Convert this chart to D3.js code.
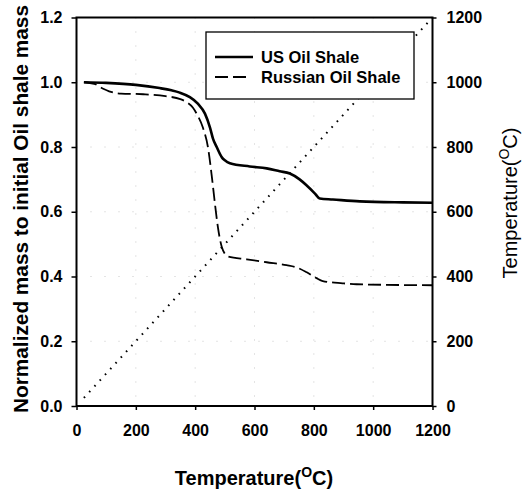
<!DOCTYPE html>
<html><head><meta charset="utf-8">
<script src="https://cdn.jsdelivr.net/npm/d3@7"></script>
<style>body{margin:0;background:#fff}svg{display:block}text{font-family:"Liberation Sans",Arial,sans-serif}</style>
</head><body>
<svg id="c" width="524" height="495"></svg>
<script>
const usTemp = [25,100,200,280,320,348,382,409,433,450,460,473,490,500,517,584,641,685,719,752,776,803,820,864,955,1100,1200];
const usMass = [1.0,0.998,0.992,0.982,0.975,0.968,0.954,0.934,0.903,0.86,0.826,0.799,0.768,0.759,0.75,0.74,0.734,0.725,0.718,0.70,0.681,0.657,0.641,0.638,0.632,0.629,0.628];
const ruTemp = [25,60,90,110,150,225,300,350,372,392,405,426,443,456,466,477,490,500,510,574,641,708,742,776,809,830,897,944,1200];
const ruMass = [1.0,0.995,0.98,0.972,0.965,0.963,0.957,0.948,0.938,0.922,0.903,0.86,0.80,0.71,0.63,0.55,0.49,0.47,0.462,0.453,0.444,0.435,0.428,0.413,0.395,0.386,0.379,0.376,0.373];
const tempX = [25,1200];
const tempY = [25,1200];
const xTicks = [0,200,400,600,800,1000,1200];
const yLeftTicks = [0,0.2,0.4,0.6,0.8,1.0,1.2];
const yRightTicks = [0,200,400,600,800,1000,1200];
const seriesNames = ["US Oil Shale","Russian Oil Shale"];

const svg = d3.select("#c");
const L=76.5,R=432.5,T=17.5,B=406;
const x = d3.scaleLinear().domain([0,1200]).range([L,R]);
const yL = d3.scaleLinear().domain([0,1.2]).range([B,T]);
const yR = d3.scaleLinear().domain([0,1200]).range([B,T]);

// faint grid
const g = svg.append("g").attr("stroke","#c8c8c8").attr("stroke-width",1).attr("stroke-dasharray","1,13");
xTicks.slice(1,-1).forEach(t=>g.append("line").attr("x1",x(t)).attr("x2",x(t)).attr("y1",T).attr("y2",B));
yLeftTicks.slice(1,-1).forEach(t=>g.append("line").attr("x1",L).attr("x2",R).attr("y1",yL(t)).attr("y2",yL(t)));

// temperature dotted line
const tline = d3.line().x(d=>x(d[0])).y(d=>yR(d[1]));
svg.append("path").datum(tempX.map((v,i)=>[v,tempY[i]])).attr("d",tline)
  .attr("fill","none").attr("stroke","#000").attr("stroke-width",2).attr("stroke-dasharray","1.6,6.2");

const mline = d3.line().x(d=>x(d[0])).y(d=>yL(d[1])).curve(d3.curveMonotoneX);
svg.append("path").datum(ruTemp.map((v,i)=>[v,ruMass[i]])).attr("d",mline)
  .attr("fill","none").attr("stroke","#000").attr("stroke-width",1.8).attr("stroke-dasharray","13,5");
svg.append("path").datum(usTemp.map((v,i)=>[v,usMass[i]])).attr("d",mline)
  .attr("fill","none").attr("stroke","#000").attr("stroke-width",2.6);

// axes
const fs = "16px";
function style(sel){
  sel.select(".domain").remove();
  sel.selectAll("line").attr("stroke","#000").attr("stroke-width",1.5);
  sel.selectAll("text").attr("font-size",fs).attr("font-weight","bold").attr("fill","#000");
}
svg.append("g").attr("transform",`translate(0,${B})`)
  .call(d3.axisBottom(x).tickValues(xTicks).tickSize(4).tickPadding(15).tickFormat(d3.format("d"))).call(style);
svg.append("g").attr("transform",`translate(${L},0)`)
  .call(d3.axisLeft(yL).tickValues(yLeftTicks).tickSize(5).tickPadding(9).tickFormat(d3.format(".1f"))).call(style);
svg.append("g").attr("transform",`translate(${R},0)`)
  .call(d3.axisRight(yR).tickValues(yRightTicks).tickSize(4).tickPadding(10).tickFormat(d3.format("d"))).call(style);

// frame
svg.append("rect").attr("x",L).attr("y",T).attr("width",R-L).attr("height",B-T)
  .attr("fill","none").attr("stroke","#000").attr("stroke-width",2);

// legend
const lg = svg.append("g");
lg.append("rect").attr("x",206).attr("y",32).attr("width",208).attr("height",67)
  .attr("fill","#fff").attr("stroke","#000").attr("stroke-width",1.3);
lg.append("line").attr("x1",215).attr("x2",253).attr("y1",57).attr("y2",57).attr("stroke","#000").attr("stroke-width",2.6);
lg.append("line").attr("x1",215).attr("x2",250).attr("y1",77).attr("y2",77).attr("stroke","#000").attr("stroke-width",1.8).attr("stroke-dasharray","13,5");
lg.append("text").attr("x",261).attr("y",63).attr("font-size","16.5px").attr("font-weight","bold").text(seriesNames[0]);
lg.append("text").attr("x",261).attr("y",83).attr("font-size","16.5px").attr("font-weight","bold").text(seriesNames[1]);

// titles
function tempTitle(sel, size){
  sel.append("tspan").text("Temperature(");
  sel.append("tspan").attr("font-size",(size*0.7)+"px").attr("dy",-size*0.42).text("O");
  sel.append("tspan").attr("dy",size*0.42).text("C)");
}
const bt = svg.append("text").attr("x",254).attr("y",485).attr("text-anchor","middle")
  .attr("font-size","20px").attr("font-weight","bold");
tempTitle(bt,20);
svg.append("text").attr("transform","translate(28,209) rotate(-90)").attr("text-anchor","middle")
  .attr("font-size","20px").attr("font-weight","bold").attr("textLength",408).attr("lengthAdjust","spacingAndGlyphs")
  .text("Normalized mass to initial Oil shale mass");
const rt = svg.append("text").attr("transform","translate(517,203) rotate(-90)").attr("text-anchor","middle")
  .attr("font-size","20px");
tempTitle(rt,20);
</script>
</body></html>
